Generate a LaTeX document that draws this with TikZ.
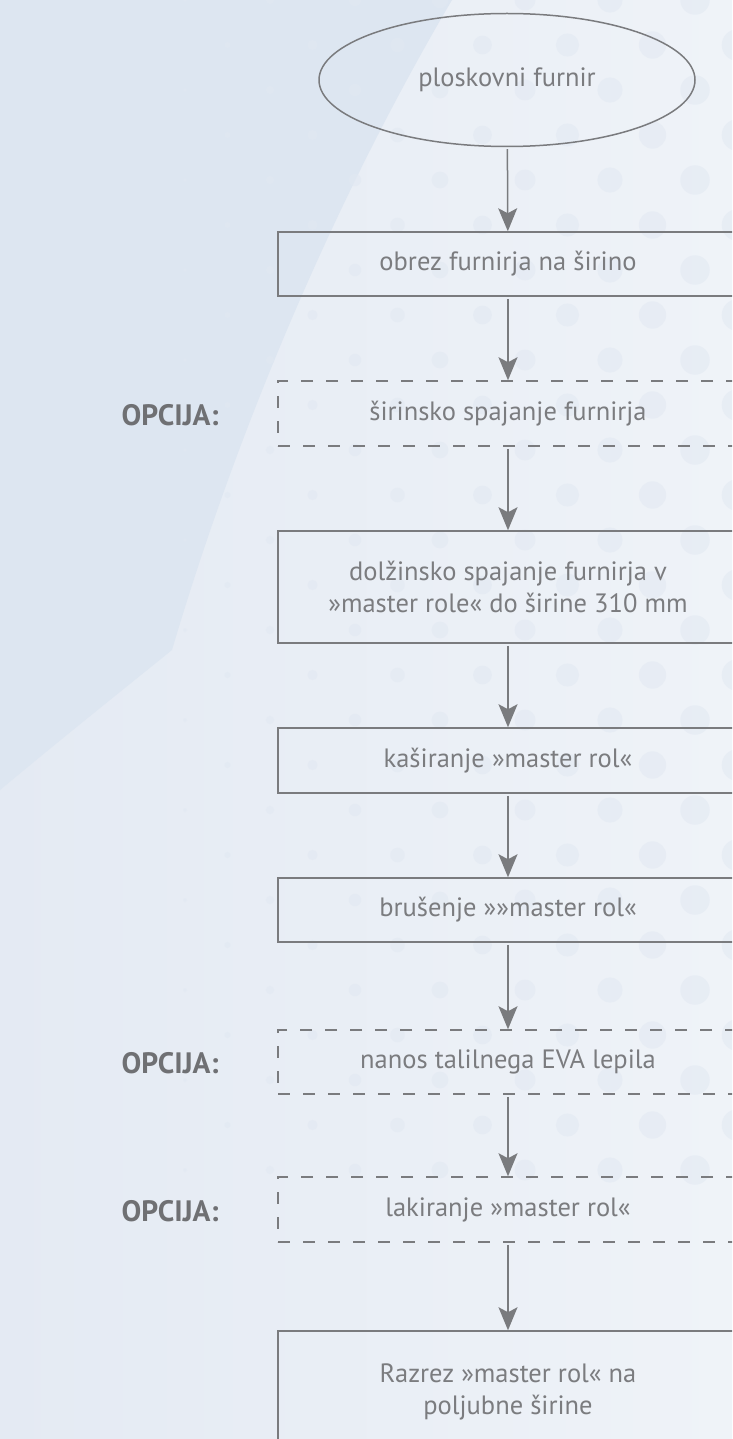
\documentclass[tikz,border=0pt]{standalone}
\usepackage{fontspec}
\setmainfont{PT Sans}
\usetikzlibrary{shapes.geometric}
\usetikzlibrary{arrows.meta}

\definecolor{linegray}{HTML}{7A7B7E}
\definecolor{textgray}{HTML}{7B7C7F}
\definecolor{labelgray}{HTML}{6F7073}
\definecolor{bgdark}{HTML}{DDE6F1}
\definecolor{bgleft}{HTML}{E4EAF3}
\definecolor{bgright}{HTML}{EFF3F8}
\definecolor{dotblue}{HTML}{E1E8F2}

\begin{document}
\begin{tikzpicture}[x=1pt,y=-1pt,
  stepbox/.style={draw=linegray,line width=1.5pt,rectangle,minimum width=460pt,
    inner sep=0pt,align=center,text=textgray,font=\fontsize{26.5}{32}\selectfont},
  optbox/.style={stepbox,dash pattern=on 12pt off 13pt},
  startnode/.style={draw=linegray,line width=1.5pt,ellipse,minimum width=376pt,
    minimum height=133pt,inner sep=0pt,text=textgray,font=\fontsize{26.5}{32}\selectfont},
  opt/.style={text=labelgray,font=\fontsize{29.5}{32}\selectfont\bfseries},
  flow/.style={draw=linegray,line width=1.5pt,shorten <=2pt,
    -{Stealth[length=23pt,width=19pt,inset=5pt]}}]

\useasboundingbox (0,0) rectangle (732,1439);
\clip (0,0) rectangle (732,1439);

% background
\shade[left color=bgleft,right color=bgright] (0,0) rectangle (732,1439);
\fill[bgdark] (0,0) -- (452,0) .. controls (340,190) and (240,420) .. (172,650)
   .. controls (110,700) and (60,740) .. (0,790) -- cycle;
\foreach \row in {0,...,26}{
  \foreach \col in {0,...,6}{
    \pgfmathsetmacro{\xx}{185+85*\col+42.5*mod(\row,2)}
    \pgfmathsetmacro{\rr}{2+(\xx-185)/40}
    \fill[dotblue,opacity=0.5] (\xx,45*\row) circle (\rr pt);
  }
}

% steps
\node[startnode] (start) at (507,80) {ploskovni furnir};
\node[stepbox,minimum height=64pt] (obrez) at (508,264) {obrez furnirja na širino};
\node[optbox,minimum height=65pt] (sirinsko) at (508,413.5) {širinsko spajanje furnirja};
\node[stepbox,minimum height=112pt] (dolzinsko) at (508,587)
   {dolžinsko spajanje furnirja v\\»master role« do širine 310 mm};
\node[stepbox,minimum height=65pt] (kasiranje) at (508,760.5) {kaširanje »master rol«};
\node[stepbox,minimum height=64pt] (brusenje) at (508,910) {brušenje »»master rol«};
\node[optbox,minimum height=64pt] (nanos) at (508,1062) {nanos talilnega EVA lepila};
\node[optbox,minimum height=65pt] (lakiranje) at (508,1209.5) {lakiranje »master rol«};
\node[stepbox,minimum height=122pt] (razrez) at (508,1392)
   {Razrez »master rol« na\\poljubne širine};

% options
\node[opt] (opt1) at (170,415) {OPCIJA:};
\node[opt] (opt2) at (170,1063) {OPCIJA:};
\node[opt] (opt3) at (170,1211) {OPCIJA:};

% arrows
\draw[flow] (start) -- (obrez);
\draw[flow] (obrez) -- (sirinsko);
\draw[flow] (sirinsko) -- (dolzinsko);
\draw[flow] (dolzinsko) -- (kasiranje);
\draw[flow] (kasiranje) -- (brusenje);
\draw[flow] (brusenje) -- (nanos);
\draw[flow] (nanos) -- (lakiranje);
\draw[flow] (lakiranje) -- (razrez);

\end{tikzpicture}
\end{document}
